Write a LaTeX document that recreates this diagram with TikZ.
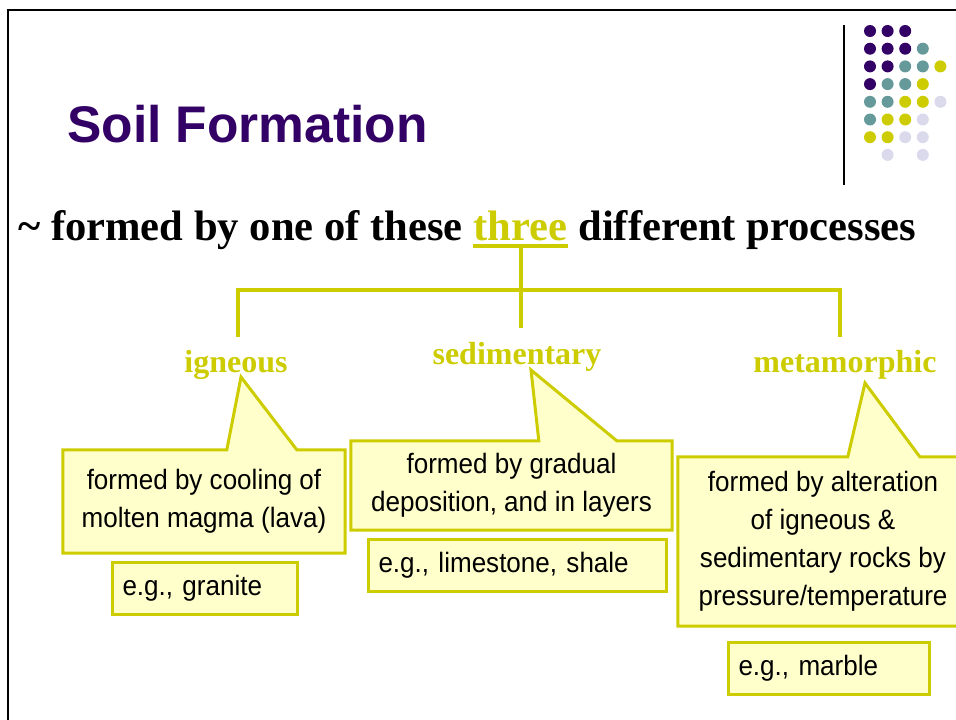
\documentclass[tikz,border=0pt]{standalone}
\usepackage{fontspec}
\setmainfont{Liberation Serif}
\newfontfamily\headfont{Liberation Sans}
\newfontfamily\bodyfont[FakeStretch=0.93]{Liberation Sans}
\usetikzlibrary{backgrounds}
\frenchspacing

\definecolor{soilPurple}{HTML}{330066}
\definecolor{soilTeal}{HTML}{669999}
\definecolor{soilOchre}{HTML}{CCCC00}
\definecolor{soilLilac}{HTML}{DADAEC}
\definecolor{soilCream}{HTML}{FFFFCC}

\tikzset{
  lead/.style={font=\bfseries\fontsize{42.6}{48}\selectfont, inner sep=0pt},
  tree/.style={draw=soilOchre, line width=4pt, line join=miter},
  procname/.style={font=\bfseries\fontsize{32}{36}\selectfont, text=soilOchre, inner sep=0pt},
  callbox/.style={draw=soilOchre, fill=soilCream, line width=3pt, line join=miter},
  calltext/.style={font=\bodyfont\fontsize{28}{38}\selectfont, align=center, inner sep=0pt},
  egbox/.style={callbox, anchor=north west, minimum height=52pt, inner xsep=10pt,
    inner ysep=0pt, align=left, font=\bodyfont\fontsize{28}{34}\selectfont}
}

\begin{document}
\begin{tikzpicture}[x=1pt, y=-1pt]
    \useasboundingbox (0,0) rectangle (956,720);

    % Frame of the slide
    \draw[line width=2.5pt] (8,730) -- (8,10) -- (970,10);

    % Logo in the corner
    \draw[line width=1.5pt] (844,25) -- (844,185);
    \foreach \rowcols [count=\r from 0] in {
        {soilPurple,soilPurple,soilPurple,none,none},
        {soilPurple,soilPurple,soilPurple,soilTeal,none},
        {soilPurple,soilPurple,soilTeal,soilTeal,soilOchre},
        {soilPurple,soilTeal,soilTeal,soilOchre,none},
        {soilTeal,soilTeal,soilOchre,soilOchre,soilLilac},
        {soilTeal,soilOchre,soilOchre,soilLilac,none},
        {soilOchre,soilOchre,soilLilac,soilLilac,none},
        {none,soilLilac,none,soilLilac,none}}
      \foreach \c [count=\k from 0] in \rowcols
        \fill[fill=\c] (870+17.6*\k, 31+17.7*\r) circle (6pt);

    % Title
    \node[anchor=base west, inner sep=0pt, text=soilPurple,
          font=\headfont\bfseries\fontsize{51.5}{60}\selectfont] (title) at (67,142) {Soil Formation};

    % Lead sentence
    \node[lead, anchor=base west] (pre) at (18,240) {\textasciitilde{} formed by one of these};
    \node[lead, anchor=base west, text=soilOchre] (three) at ([xshift=10.5pt]pre.base east) {three};
    \node[lead, anchor=base west] (post) at ([xshift=10.5pt]three.base east) {different processes};

    % Underline and branches
    \coordinate (ul) at ([yshift=-6pt]three.base);
    \draw[tree, line width=3.5pt] ([yshift=-6pt]three.base west) -- ([yshift=-6pt]three.base east);
    \coordinate (hub) at ([yshift=-44pt]ul);
    \coordinate (igend) at (238,337);
    \coordinate (sedend) at ([yshift=-38pt]hub);
    \coordinate (metend) at (840,337);
    \draw[tree] (ul) -- (hub);
    \draw[tree] (igend) |- (hub) -| (metend);
    \draw[tree] (hub) -- (sedend);

    % Process names
    \node[procname, anchor=base] (ign) at (236,372) {igneous};
    \node[procname, anchor=base] (sed) at (517,364) {sedimentary};
    \node[procname, anchor=base] (met) at (845,372) {metamorphic};
    \coordinate (igtip) at (241,377);
    \coordinate (sedtip) at (531,370);
    \coordinate (mettip) at (865,383);

    % Callouts
    \node[calltext, minimum width=282pt, minimum height=103pt] (igncall) at (204,501.5)
        {formed by cooling of\\molten magma (lava)};
    \node[calltext, minimum width=321pt, minimum height=89pt] (sedcall) at (511.5,485.5)
        {formed by gradual\\deposition, and in layers};
    \node[calltext, minimum width=290pt, minimum height=169pt] (metcall) at (823,541.5)
        {formed by alteration\\of igneous \&\\sedimentary rocks by\\pressure/temperature};

    \begin{scope}[on background layer]
    \draw[callbox] (igncall.north west) -- ([xshift=164pt]igncall.north west) -- (igtip)
        -- ([xshift=234pt]igncall.north west) -- (igncall.north east)
        -- (igncall.south east) -- (igncall.south west) -- cycle;
    \draw[callbox] (sedcall.north west) -- ([xshift=188pt]sedcall.north west) -- (sedtip)
        -- ([xshift=266pt]sedcall.north west) -- (sedcall.north east)
        -- (sedcall.south east) -- (sedcall.south west) -- cycle;
    \draw[callbox] (metcall.north west) -- ([xshift=170pt]metcall.north west) -- (mettip)
        -- ([xshift=242pt]metcall.north west) -- (metcall.north east)
        -- (metcall.south east) -- (metcall.south west) -- cycle;
    \end{scope}

    % Examples
    \node[egbox, text width=165pt] (igex) at (111,561) {e.g., granite};
    \node[egbox, text width=278pt] (sedex) at (367,538) {e.g., limestone, shale};
    \node[egbox, text width=181pt] (metex) at (727,641) {e.g., marble};

\end{tikzpicture}
\end{document}
